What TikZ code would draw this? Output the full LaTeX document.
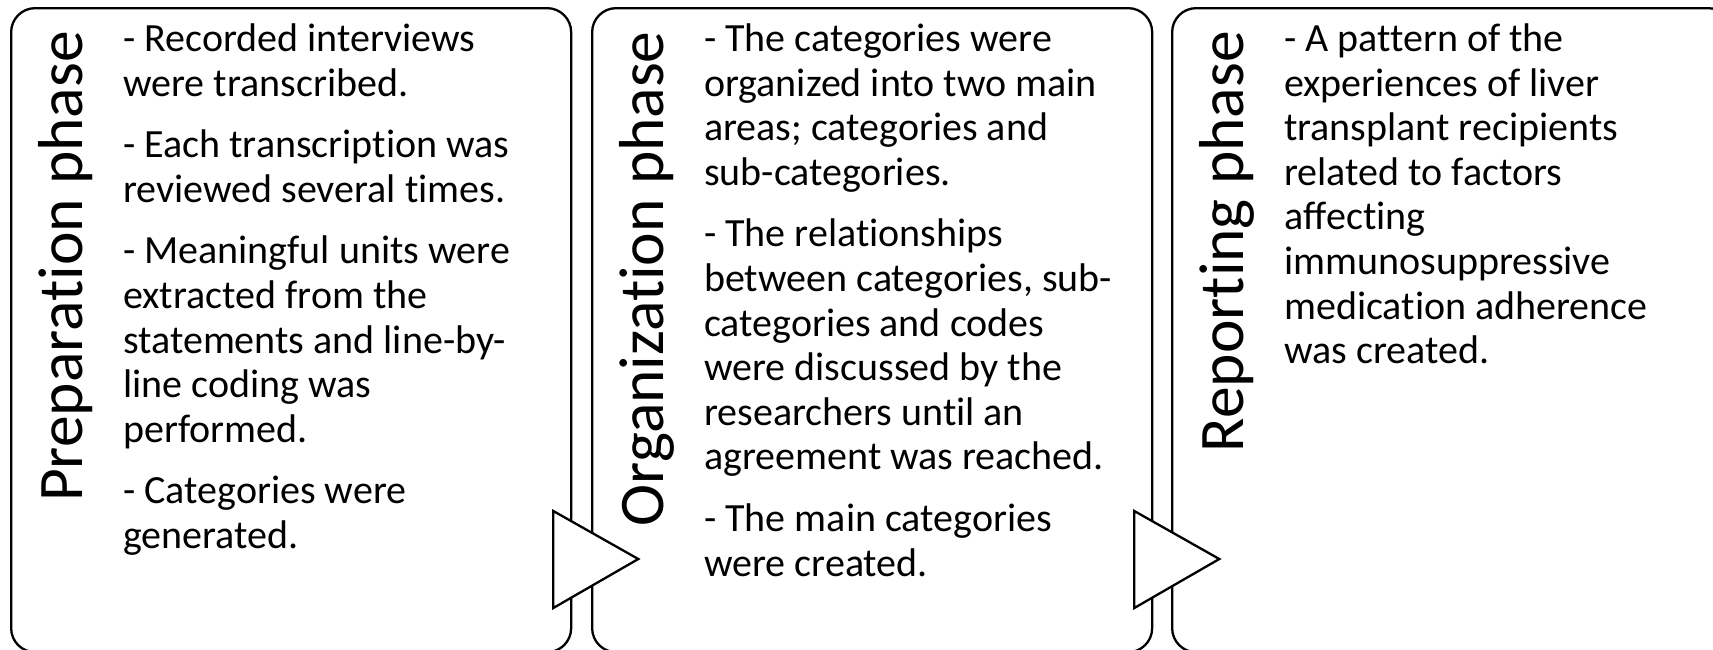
\documentclass[tikz,border=0pt]{standalone}
\usepackage{fontspec}
\setmainfont{Carlito}[Ligatures=NoCommon]
\usetikzlibrary{calc}
\begin{document}
\begin{tikzpicture}[x=1pt,y=-1pt,
  phasebox/.style={draw=black, line width=2.3pt, rounded corners=24pt,
    rectangle, inner sep=0pt, minimum width=560pt, minimum height=644pt, anchor=north west},
  flowtip/.style={draw=black, fill=white, line width=2.3pt, line join=miter},
  phaselabel/.style={rotate=90, anchor=base east, inner sep=0pt,
    font=\fontsize{63.5}{70}\selectfont},
  bodytext/.style={anchor=base west, inner sep=0pt,
    font=\fontsize{40}{44.6}\selectfont}]
\useasboundingbox (0,0) rectangle (1713,649);

% three phase panels
\node[phasebox] (box1) at (10,7) {};
\node[phasebox] (box2) at (591,7) {};
\node[phasebox] (box3) at (1171,7) {};

% arrow heads between the panels
\draw[flowtip] ($(box1.north east)+(-19,504)$) coordinate (t1a)
  -- ($(box1.north east)+(66,552)$) coordinate (t1b)
  -- ($(box1.north east)+(-19,601)$) coordinate (t1c) -- cycle;
\draw[flowtip] ($(box2.north east)+(-19,504)$) coordinate (t2a)
  -- ($(box2.north east)+(66,552)$) coordinate (t2b)
  -- ($(box2.north east)+(-19,601)$) coordinate (t2c) -- cycle;

% vertical phase titles
\node[phaselabel] (lab1) at ($(box1.north west)+(72,24)$) {Preparation phase};
\node[phaselabel] (lab2) at ($(box2.north west)+(72,24)$) {Organization phase};
\node[phaselabel] (lab3) at ($(box3.north west)+(72,24)$) {Reporting phase};

% panel contents
\node[bodytext] (txt1) at ($(box1.north west)+(113,44.5)$) {\begin{tabular}[t]{@{}l@{}}
- Recorded interviews\\
were transcribed.\\[17pt]
- Each transcription was\\
reviewed several times.\\[17pt]
- Meaningful units were\\
extracted from the\\
statements and line-by-\\
line coding was\\
performed.\\[17pt]
- Categories were\\
generated.
\end{tabular}};

\node[bodytext] (txt2) at ($(box2.north west)+(113,44.5)$) {\begin{tabular}[t]{@{}l@{}}
- The categories were\\
organized into two main\\
areas; categories and\\
sub-categories.\\[17pt]
- The relationships\\
between categories, sub-\\
categories and codes\\
were discussed by the\\
researchers until an\\
agreement was reached.\\[17pt]
- The main categories\\
were created.
\end{tabular}};

\node[bodytext] (txt3) at ($(box3.north west)+(113,44.5)$) {\begin{tabular}[t]{@{}l@{}}
- A pattern of the\\
experiences of liver\\
transplant recipients\\
related to factors\\
affecting\\
immunosuppressive\\
medication adherence\\
was created.
\end{tabular}};
\end{tikzpicture}
\end{document}
